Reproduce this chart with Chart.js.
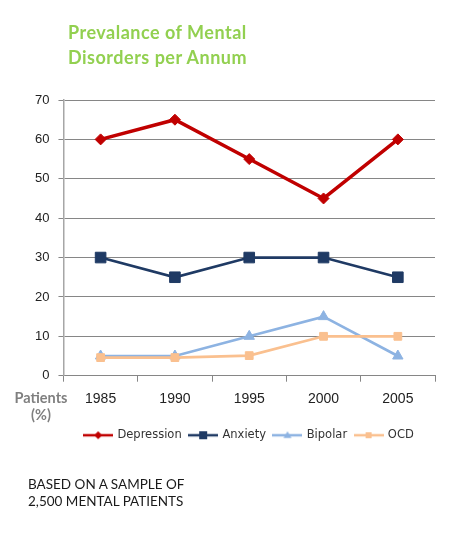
<!DOCTYPE html>
<html>
<head>
<meta charset="utf-8">
<script src="https://cdn.jsdelivr.net/npm/chart.js@4"></script>
<style>
  html, body { margin: 0; padding: 0; background: #fff; }
  #wrap { position: relative; width: 472px; height: 538px; }
  #chart { position: absolute; left: 0; top: 0; }
  .title { position: absolute; left: 68px; top: 20px; font: bold 18px Lato, sans-serif; letter-spacing: 0.5px; color: #92D050; line-height: 25px; }
  .ylab { position: absolute; left: 11px; top: 389px; width: 60px; text-align: center; font: bold 14.5px Lato, sans-serif; color: #7F7F7F; line-height: 17px; }
  .note { position: absolute; left: 28px; top: 476px; font: 13.5px Lato, sans-serif; color: #1a1a1a; line-height: 17px; }
</style>
</head>
<body>
<div id="wrap">
  <canvas id="chart" width="472" height="538"></canvas>
  <div class="title">Prevalance of Mental<br>Disorders per Annum</div>
  <div class="ylab">Patients<br>(%)</div>
  <div class="note">BASED ON A SAMPLE OF<br>2,500 MENTAL PATIENTS</div>
</div>
<script>
var years = ["1985", "1990", "1995", "2000", "2005"];
var depression = [60, 65, 55, 45, 60];
var anxiety = [30, 25, 30, 30, 25];
var bipolar = [5, 5, 10, 15, 5];
var ocd = [4.6, 4.6, 5.1, 10, 10];
var yTicks = [0, 10, 20, 30, 40, 50, 60, 70];

// little line+marker icons for the legend
function legendIcon(color, shape, size, lw) {
  var c = document.createElement("canvas");
  c.width = 30;
  c.height = 12;
  var g = c.getContext("2d");
  g.strokeStyle = color;
  g.fillStyle = color;
  g.lineWidth = lw;
  g.beginPath();
  g.moveTo(0, 6);
  g.lineTo(30, 6);
  g.stroke();
  g.beginPath();
  if (shape == "diamond") {
    g.moveTo(15, 6 - size); g.lineTo(15 + size, 6); g.lineTo(15, 6 + size); g.lineTo(15 - size, 6);
  } else if (shape == "square") {
    g.rect(15 - size, 6 - size, size * 2, size * 2);
  } else {
    g.moveTo(15, 6 - size); g.lineTo(15 + size, 6 + size * 0.7); g.lineTo(15 - size, 6 + size * 0.7);
  }
  g.closePath();
  g.fill();
  return c;
}

var icons = [
  legendIcon("#C00000", "diamond", 4, 2.5),
  legendIcon("#1F3A64", "square", 4, 2.5),
  legendIcon("#8DB3E2", "triangle", 4, 2.5),
  legendIcon("#FAC08F", "square", 3, 2.5)
];

var chart = new Chart(document.getElementById("chart"), {
  type: "line",
  data: {
    labels: years,
    datasets: [
      { label: "Depression", data: depression, borderColor: "#C00000", backgroundColor: "#C00000",
        borderWidth: 3.5, pointStyle: "rectRot", pointRadius: 5.5, pointBorderWidth: 1, order: 3 },
      { label: "Anxiety", data: anxiety, borderColor: "#1F3A64", backgroundColor: "#1F3A64",
        borderWidth: 2.7, pointStyle: "rect", pointRadius: 7.5, pointBorderWidth: 1, order: 2 },
      { label: "Bipolar", data: bipolar, borderColor: "#8DB3E2", backgroundColor: "#8DB3E2",
        borderWidth: 2.7, pointStyle: "triangle", pointRadius: 6, pointBorderWidth: 1, order: 1 },
      { label: "OCD", data: ocd, borderColor: "#FAC08F", backgroundColor: "#FAC08F",
        borderWidth: 2.7, pointStyle: "rect", pointRadius: 5.5, pointBorderWidth: 1, order: 0 }
    ]
  },
  options: {
    responsive: false,
    animation: false,
    layout: { padding: { left: 26, right: 37, top: 100, bottom: 87 } },
    elements: { line: { tension: 0 } },
    scales: {
      x: {
        offset: true,
        grid: { offset: true, drawOnChartArea: false, drawTicks: true, tickLength: 6, color: "#868686" },
        border: { color: "#868686" },
        ticks: { color: "#222", font: { family: "Liberation Sans", size: 14 }, padding: 9 },
        afterFit: function (axis) { axis.height += 5; }
      },
      y: {
        min: 0,
        max: 70,
        afterBuildTicks: function (axis) {
          axis.ticks = yTicks.map(function (v) { return { value: v }; });
        },
        grid: { color: "#868686", tickLength: 5 },
        border: { color: "#A6A6A6", width: 1.5 },
        ticks: { color: "#222", font: { family: "Liberation Sans", size: 13 }, padding: 9 }
      }
    },
    plugins: {
      title: { display: false },
      tooltip: { enabled: false },
      legend: {
        position: "bottom",
        fullSize: false,
        labels: {
          usePointStyle: true,
          pointStyleWidth: 27,
          padding: 8,
          color: "#333",
          font: { family: "DejaVu Sans", size: 11.5 },
          generateLabels: function (ch) {
            return ch.data.datasets.map(function (ds, i) {
              return { text: ds.label, pointStyle: icons[i], fillStyle: ds.borderColor,
                strokeStyle: ds.borderColor, lineWidth: 0, datasetIndex: i, fontColor: "#333" };
            });
          }
        }
      }
    }
  }
});
</script>
</body>
</html>
